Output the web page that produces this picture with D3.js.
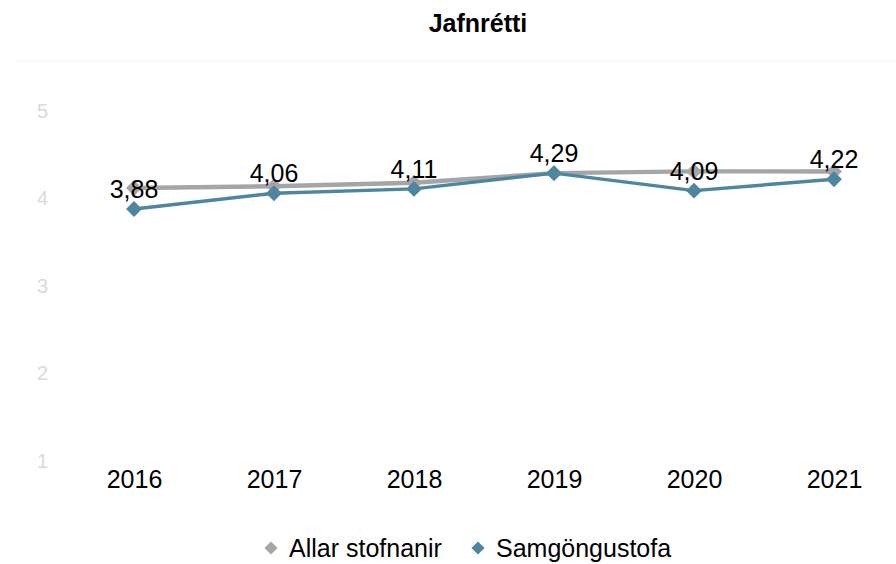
<!DOCTYPE html>
<html><head><meta charset="utf-8">
<script src="https://cdn.jsdelivr.net/npm/d3@7/dist/d3.min.js"></script>
<style>body{margin:0;background:#fff}svg{display:block;font-family:"Liberation Sans",Arial,sans-serif}</style>
</head><body><svg id="c" width="896" height="564"></svg>
<script>
const years = ["2016","2017","2018","2019","2020","2021"];
const allar = [4.12, 4.14, 4.18, 4.29, 4.31, 4.31];
const samgongu = [3.88, 4.06, 4.11, 4.29, 4.09, 4.22];
const yTicks = [1,2,3,4,5];
const seriesNames = ["Allar stofnanir","Samgöngustofa"];
const colors = ["#a5a5a5","#4e86a0"];

const FF = "Liberation Sans, Arial, sans-serif";
const svg = d3.select("#c");
const x = d3.scalePoint().domain(years).range([134, 834]);
const y = d3.scaleLinear().domain([1,5]).range([461, 111]);

svg.append("text").attr("x",478).attr("y",32).attr("text-anchor","middle")
  .attr("font-weight","bold").attr("font-size",25).attr("fill","#000").text("Jafnrétti");

svg.append("line").attr("x1",15).attr("x2",896).attr("y1",61).attr("y2",61)
  .attr("stroke","#f5f5f5").attr("stroke-width",1);

const yAxis = svg.append("g").attr("transform","translate(50,0)")
  .call(d3.axisLeft(y).tickValues(yTicks).tickFormat(d3.format("d")).tickSize(0).tickPadding(2));
yAxis.select(".domain").remove();
yAxis.selectAll("text").attr("font-size",20).attr("fill","#d9d9d9").attr("font-family",FF);

const xAxis = svg.append("g").attr("transform","translate(0,468)")
  .call(d3.axisBottom(x).tickSize(0).tickPadding(2));
xAxis.select(".domain").remove();
xAxis.selectAll("text").attr("font-size",25).attr("fill","#000").attr("font-family",FF);

const diamond = d3.symbol().type(d3.symbolDiamond2);
const data = [allar, samgongu];
const widths = [4.5, 3.5];
data.forEach((vals, i) => {
  const line = d3.line().x((d,j)=>x(years[j])).y(d=>y(d));
  svg.append("path").datum(vals).attr("d", line).attr("fill","none")
    .attr("stroke", colors[i]).attr("stroke-width", widths[i]).attr("stroke-linejoin","round");
  svg.selectAll(null).data(vals).enter().append("path")
    .attr("d", diamond.size(160)())
    .attr("transform",(d,j)=>`translate(${x(years[j])},${y(d)})`)
    .attr("fill", colors[i]);
});

svg.selectAll(null).data(samgongu).enter().append("text")
  .attr("x",(d,j)=>x(years[j])).attr("y",d=>y(d)-11)
  .attr("text-anchor","middle").attr("font-size",25).attr("fill","#000")
  .text(d=>d.toFixed(2).replace(".",","));

const legend = svg.append("g");
const lx = [271, 478];
seriesNames.forEach((n,i)=>{
  legend.append("path").attr("d", diamond.size(110)()).attr("transform",`translate(${lx[i]},548)`).attr("fill",colors[i]);
  legend.append("text").attr("x",lx[i]+18).attr("y",557).attr("font-size",25).attr("fill","#000").text(n);
});
</script></body></html>
